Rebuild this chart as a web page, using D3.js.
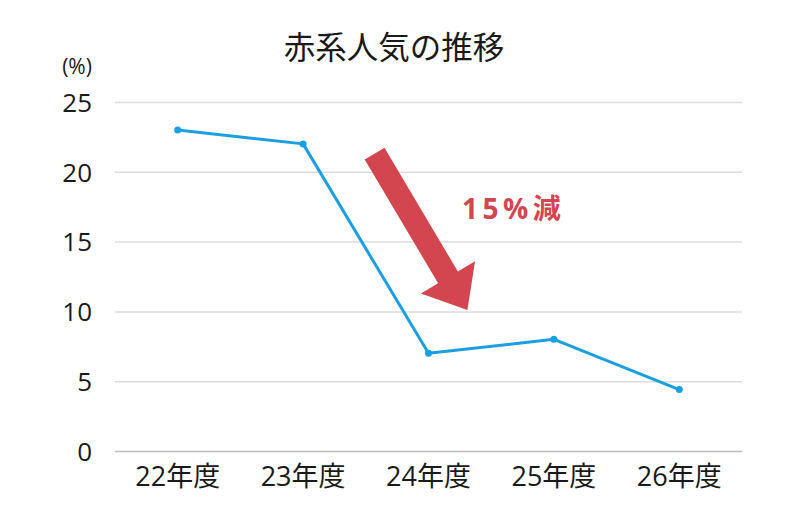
<!DOCTYPE html>
<html><head><meta charset="utf-8">
<script src="https://cdn.jsdelivr.net/npm/d3@7"></script>
<style>
html,body{margin:0;padding:0;background:#fff;}
svg{display:block;font-family:"Open Sans","Noto Sans CJK JP",sans-serif;}
</style></head>
<body>
<svg id="chart" width="800" height="522"></svg>
<script>
const categories = ["22年度","23年度","24年度","25年度","26年度"];
const values = [23, 22, 7, 8, 4.4];
const yTicks = [0, 5, 10, 15, 20, 25];
const titleText = "赤系人気の推移";
const unitText = "(%)";
const noteText = "15%減";
// arrow annotation in data space: [category index, value]
const arrowFrom = [1.57, 21.3];
const arrowTo = [2.31, 10.1];

(function () {
const svg = d3.select("#chart");
const mLeft = 115, mRight = 742, mTop = 102, mBottom = 451;
const FONT = "'Open Sans','Noto Sans CJK JP',sans-serif";

const x = d3.scaleBand().domain(categories).range([mLeft, mRight]);
const xi = i => mLeft + x.step() * (i + 0.5);
const y = d3.scaleLinear().domain([0, 25]).range([mBottom, mTop]);

// title
svg.append("text").attr("x", 394).attr("y", 59).attr("text-anchor", "middle")
  .attr("font-family", "'Noto Sans CJK JP',sans-serif")
  .attr("font-size", 31.5).attr("fill", "#1a1a1a").text(titleText);
svg.append("text").attr("x", 77).attr("y", 74).attr("text-anchor", "middle")
  .attr("font-family", FONT)
  .attr("font-size", 21).attr("fill", "#1a1a1a").text(unitText);

// grid
const yAxis = d3.axisLeft(y).tickValues(yTicks).tickSize(-(mRight - mLeft)).tickPadding(23);
const gy = svg.append("g").attr("transform", `translate(${mLeft},0)`).call(yAxis);
gy.select(".domain").remove();
gy.selectAll(".tick line").attr("stroke", d => d === 0 ? "#bdbdbd" : "#dcdcdc").attr("stroke-width", 1.5);
gy.selectAll(".tick text").attr("font-size", 26).attr("fill", "#1a1a1a")
  .attr("font-family", FONT).attr("dy", "0.36em");

// x axis labels
const xAxis = d3.axisBottom(x).tickSize(0).tickPadding(16);
const gx = svg.append("g").attr("transform", `translate(0,${mBottom})`).call(xAxis);
gx.select(".domain").remove();
gx.selectAll(".tick text").attr("font-size", 27).attr("fill", "#1a1a1a")
  .attr("font-family", FONT);

// line
const line = d3.line().x((d, i) => x(categories[i]) + x.bandwidth() / 2).y(d => y(d));
svg.append("path").datum(values).attr("d", line).attr("fill", "none")
  .attr("stroke", "#1a9fe0").attr("stroke-width", 3).attr("stroke-linejoin", "round");
svg.selectAll("circle.pt").data(values).enter().append("circle")
  .attr("cx", (d, i) => x(categories[i]) + x.bandwidth() / 2).attr("cy", d => y(d))
  .attr("r", 3.5).attr("fill", "#1a9fe0");

// arrow
const x0 = xi(arrowFrom[0]), y0 = y(arrowFrom[1]);
const x1 = xi(arrowTo[0]), y1 = y(arrowTo[1]);
const dx = x1 - x0, dy = y1 - y0, L = Math.hypot(dx, dy);
const ux = dx / L, uy = dy / L, nx = -uy, ny = ux;
const sw = 11.5, hw = 31.5, hl = 38;
const bx = x1 - ux * hl, by = y1 - uy * hl;
const pts = [
  [x0 + nx * sw, y0 + ny * sw],
  [bx + nx * sw, by + ny * sw],
  [bx + nx * hw, by + ny * hw],
  [x1, y1],
  [bx - nx * hw, by - ny * hw],
  [bx - nx * sw, by - ny * sw],
  [x0 - nx * sw, y0 - ny * sw]
];
svg.append("polygon").attr("points", pts.map(p => p.join(",")).join(" ")).attr("fill", "#d4464f");

svg.append("text").attr("x", 462).attr("y", 219).attr("font-size", 28).attr("font-weight", "bold")
  .attr("font-family", FONT).attr("letter-spacing", 4.5)
  .attr("fill", "#d4464f").text(noteText);
})();
</script>
</body></html>
